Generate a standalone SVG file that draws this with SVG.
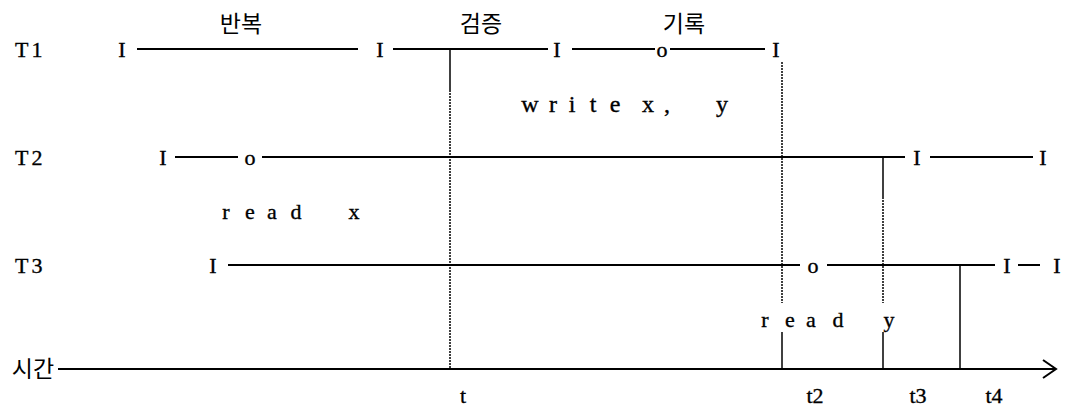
<svg xmlns="http://www.w3.org/2000/svg" width="1065" height="410" viewBox="0 0 1065 410">
<style>
.t{font-family:"Liberation Serif",serif;font-size:22px;fill:#000;stroke:#000;stroke-width:0.35}
.m{font-family:"Liberation Serif",serif;font-size:22px;fill:#000;stroke:#000;stroke-width:0.35;text-anchor:middle}
.w{font-family:"Liberation Serif",serif;font-size:24px;fill:#000;stroke:#000;stroke-width:0.35;text-anchor:middle}
.k{font-family:"Noto Sans CJK KR",sans-serif;font-size:23px;fill:#000;text-anchor:middle}
.h{stroke:#000;stroke-width:2;fill:none}
.v{stroke:#000;stroke-width:1.5;fill:none}
.d{stroke:#000;stroke-width:1.5;fill:none;stroke-dasharray:2 1}
</style>
<g id="connectors">
<path class="h" d="M137 49H358M393 49H548M572 49H655M670 49H765"/>
<path class="h" d="M175 157H238M262 157H905M930 157H1033"/>
<path class="h" d="M228 265H800M827 265H995M1018 265H1040"/>
<path class="h" d="M58 369H1055M1043 360L1056 369L1043 378"/>
<path class="v" d="M450 49V90"/>
<path class="d" d="M450 90V369"/>
<path class="d" d="M782 62V303"/>
<path class="v" d="M782 332V369"/>
<path class="v" d="M883 157V197"/>
<path class="d" d="M883 197V303"/>
<path class="v" d="M883 332V369"/>
<path class="v" d="M960 265V369"/>
</g>
<g id="T1">
<text class="t" x="15" y="57" letter-spacing="3">T1</text>
<text class="m" x="122" y="57">I</text>
<text class="m" x="380" y="57">I</text>
<text class="m" x="557" y="57">I</text>
<text class="m" x="662" y="57">o</text>
<text class="m" x="776" y="57">I</text>
<text class="k" x="241" y="32">반복</text>
<text class="k" x="481" y="32">검증</text>
<text class="k" x="684" y="32">기록</text>
<text class="w" x="530" y="112">w</text>
<text class="w" x="553" y="112">r</text>
<text class="w" x="572" y="112">i</text>
<text class="w" x="593" y="112">t</text>
<text class="w" x="615" y="112">e</text>
<text class="w" x="648" y="112">x</text>
<text class="w" x="667" y="112">,</text>
<text class="w" x="722" y="112">y</text>
</g>
<g id="T2">
<text class="t" x="15" y="165" letter-spacing="3">T2</text>
<text class="m" x="163" y="165">I</text>
<text class="m" x="250" y="165">o</text>
<text class="m" x="917" y="165">I</text>
<text class="m" x="1043" y="165">I</text>
<text class="m" x="226" y="219">r</text>
<text class="m" x="250" y="219">e</text>
<text class="m" x="272" y="219">a</text>
<text class="m" x="296" y="219">d</text>
<text class="m" x="354" y="219">x</text>
</g>
<g id="T3">
<text class="t" x="15" y="273" letter-spacing="3">T3</text>
<text class="m" x="213" y="273">I</text>
<text class="m" x="813" y="273">o</text>
<text class="m" x="1007" y="273">I</text>
<text class="m" x="1057" y="273">I</text>
<text class="m" x="765" y="327">r</text>
<text class="m" x="790" y="327">e</text>
<text class="m" x="811" y="327">a</text>
<text class="m" x="838" y="327">d</text>
<text class="m" x="889" y="327">y</text>
</g>
<g id="axis">
<text class="k" x="33" y="377">시간</text>
<text class="m" x="463" y="403">t</text>
<text class="m" x="815" y="403">t2</text>
<text class="m" x="918" y="403">t3</text>
<text class="m" x="994" y="403">t4</text>
</g>
</svg>
